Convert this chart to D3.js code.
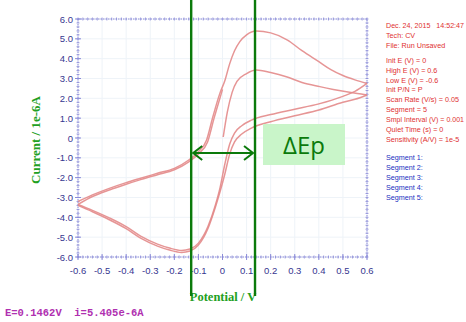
<!DOCTYPE html>
<html><head><meta charset="utf-8">
<script src="https://cdn.jsdelivr.net/npm/d3@7"></script>
<style>body{margin:0;background:#fff}svg{display:block}</style>
</head><body>
<svg id="c" width="466" height="322"></svg>
<script>
// Data (Current in 1e-6 A, Potential in V)
const xTicks = [-0.6,-0.5,-0.4,-0.3,-0.2,-0.1,0,0.1,0.2,0.3,0.4,0.5,0.6];
const xTickLabels = ["-0.6","-0.5","-0.4","-0.3","-0.2","-0.1","0","0.1","0.2","0.3","0.4","0.5","0.6"];
const yTicks = [6,5,4,3,2,1,0,-1,-2,-3,-4,-5,-6];
const yTickLabels = ["6.0","5.0","4.0","3.0","2.0","1.0","0","-1.0","-2.0","-3.0","-4.0","-5.0","-6.0"];

const seg1 = [[0.003,0.05],[0.02,1.3],[0.04,2.3],[0.06,2.85],[0.1,3.25],[0.14,3.43],[0.2,3.3],[0.265,3.09],[0.33,2.8],[0.404,2.59],[0.46,2.45],[0.515,2.33],[0.56,2.24],[0.6,2.17]];
const seg2 = [[0.6,2.17],[0.55,1.95],[0.5,1.8],[0.4,1.41],[0.3,1.12],[0.2,0.82],[0.12,0.5],[0.08,0.2],[0.05,-0.2],[0.03,-0.8],[0.01,-1.8],[-0.01,-2.7],[-0.03,-3.5],[-0.06,-4.55],[-0.1,-5.4],[-0.135,-5.7],[-0.17,-5.77],[-0.22,-5.65],[-0.27,-5.45],[-0.34,-5.05],[-0.4,-4.57],[-0.47,-4.12],[-0.54,-3.72],[-0.6,-3.4]];
const seg3 = [[-0.6,-3.2],[-0.54,-2.87],[-0.47,-2.54],[-0.4,-2.25],[-0.34,-2.03],[-0.27,-1.78],[-0.2,-1.53],[-0.14,-1.11],[-0.1,-0.69],[-0.066,-0.1],[-0.04,1.07],[-0.011,2.25],[0.01,2.9],[0.03,3.75],[0.05,4.4],[0.072,4.86],[0.1,5.2],[0.14,5.39],[0.2,5.3],[0.27,4.94],[0.33,4.4],[0.4,3.85],[0.45,3.45],[0.5,3.15],[0.55,2.93],[0.6,2.75]];
const seg4 = [[0.6,2.75],[0.55,2.35],[0.5,2.1],[0.4,1.72],[0.3,1.45],[0.2,1.18],[0.12,0.9],[0.08,0.62],[0.05,0.25],[0.03,-0.3],[0.01,-1.3],[-0.01,-2.5],[-0.03,-3.4],[-0.06,-4.45],[-0.1,-5.3],[-0.135,-5.6],[-0.17,-5.67],[-0.22,-5.55],[-0.27,-5.35],[-0.34,-4.95],[-0.4,-4.47],[-0.47,-4.03],[-0.54,-3.65],[-0.6,-3.35]];
const seg5 = [[-0.6,-3.35],[-0.54,-2.95],[-0.47,-2.62],[-0.4,-2.33],[-0.34,-2.1],[-0.27,-1.85],[-0.2,-1.6],[-0.14,-1.2],[-0.1,-0.8],[-0.062,-0.2],[-0.035,1.0],[-0.006,2.2],[0,2.45]];
const segments = [seg1, seg2, seg3, seg4, seg5];

const peaks = [-0.13, 0.135];   // cathodic / anodic peak potentials
const arrowLevel = -0.76;
const infoLines = ["Dec. 24, 2015   14:52:47","Tech: CV","File: Run Unsaved",null,"Init E (V) = 0","High E (V) = 0.6","Low E (V) = -0.6","Init P/N = P","Scan Rate (V/s) = 0.05","Segment = 5","Smpl Interval (V) = 0.001","Quiet Time (s) = 0","Sensitivity (A/V) = 1e-5"];
const segLines = ["Segment 1:","Segment 2:","Segment 3:","Segment 4:","Segment 5:"];
const cursorText = "E=0.1462V  i=5.405e-6A";

const svg = d3.select("#c");
const L=78, R=367, T=19, B=257;
const x = d3.scaleLinear().domain([-0.6,0.6]).range([L,R]);
const y = d3.scaleLinear().domain([-6,6]).range([B,T]);

// faint grid
const g = svg.append("g");
g.selectAll("line.gx").data(xTicks).join("line")
  .attr("x1",d=>x(d)).attr("x2",d=>x(d)).attr("y1",T).attr("y2",B)
  .attr("stroke","#eef3f8").attr("stroke-width",1);
g.selectAll("line.gy").data(yTicks).join("line")
  .attr("y1",d=>y(d)).attr("y2",d=>y(d)).attr("x1",L).attr("x2",R)
  .attr("stroke","#eef3f8").attr("stroke-width",1);

// frame with dense minor ticks
const frameC = "#8a8ad8";
svg.append("rect").attr("x",L).attr("y",T).attr("width",R-L).attr("height",B-T)
  .attr("fill","none").attr("stroke",frameC).attr("stroke-width",1).attr("stroke-dasharray","1.5,1");
const minorX = d3.range(-0.6,0.6001,0.02);
const minorY = d3.range(-6,6.001,0.2);
[T,B].forEach(yy=>{
  svg.append("g").selectAll("line").data(minorX).join("line")
   .attr("x1",d=>x(d)).attr("x2",d=>x(d)).attr("y1",yy-1.5).attr("y2",yy+1.5)
   .attr("stroke",frameC).attr("stroke-width",0.8);
});
[L,R].forEach(xx=>{
  svg.append("g").selectAll("line").data(minorY).join("line")
   .attr("y1",d=>y(d)).attr("y2",d=>y(d)).attr("x1",xx-1.5).attr("x2",xx+1.5)
   .attr("stroke",frameC).attr("stroke-width",0.8);
});
svg.append("g").selectAll("line").data(xTicks).join("line")
  .attr("x1",d=>x(d)).attr("x2",d=>x(d)).attr("y1",B-3).attr("y2",B+3)
  .attr("stroke",frameC).attr("stroke-width",1);
svg.append("g").selectAll("line").data(yTicks).join("line")
  .attr("y1",d=>y(d)).attr("y2",d=>y(d)).attr("x1",L-3).attr("x2",L+3)
  .attr("stroke",frameC).attr("stroke-width",1);

// tick labels
const tickC = "#36368f";
svg.append("g").selectAll("text").data(xTicks).join("text")
  .attr("x",d=>x(d)).attr("y",B+17).attr("text-anchor","middle")
  .attr("font-family","Liberation Sans, Arial").attr("font-size",9.5).attr("fill",tickC)
  .text((d,i)=>xTickLabels[i]);
svg.append("g").selectAll("text").data(yTicks).join("text")
  .attr("x",L-5).attr("y",d=>y(d)+3.5).attr("text-anchor","end")
  .attr("font-family","Liberation Sans, Arial").attr("font-size",9.5).attr("fill",tickC)
  .text((d,i)=>yTickLabels[i]);

// curves (each segment sorted by potential for a monotone-x curve)
const line = d3.line().x(d=>x(d[0])).y(d=>y(d[1])).curve(d3.curveMonotoneX);
svg.append("g").selectAll("path").data(segments.map(s=>s.slice().sort((a,b)=>a[0]-b[0]))).join("path")
  .attr("d",line).attr("fill","none").attr("stroke","#e38a8a").attr("stroke-width",1.5)
  .attr("stroke-opacity",0.9);

// axis titles
svg.append("text").attr("x",223).attr("y",301).attr("text-anchor","middle")
  .attr("font-family","Liberation Serif, Times New Roman").attr("font-weight","bold")
  .attr("font-size",12.5).attr("fill","#22a022").text("Potential / V");
svg.append("text").attr("transform","translate(40,140) rotate(-90)").attr("text-anchor","middle")
  .attr("font-family","Liberation Serif, Times New Roman").attr("font-weight","bold")
  .attr("font-size",13).attr("fill","#22a022").text("Current / 1e-6A");

// cursor readout
svg.append("text").attr("x",5).attr("y",316).style("white-space","pre")
  .attr("font-family","Liberation Mono, Courier New").attr("font-weight","bold")
  .attr("font-size",10.5).attr("fill","#b030b0").text(cursorText);

// info panel
const info = svg.append("g").attr("font-family","Liberation Sans, Arial").attr("font-size",7.2);
let yy = 28;
infoLines.forEach(t=>{
  if(t===null){ yy += 5; return; }
  info.append("text").attr("x",386).attr("y",yy).attr("fill","#e03030").style("white-space","pre").text(t);
  yy += 9.9;
});
segLines.forEach((t,i)=>{
  info.append("text").attr("x",386).attr("y",160+i*10).attr("fill","#2030c0").text(t);
});
// keep the long line inside the panel
info.selectAll("text").each(function(){
  const w = this.getComputedTextLength();
  if (w > 78) d3.select(this).attr("textLength",78).attr("lengthAdjust","spacingAndGlyphs");
});

// ΔEp annotation
const green = "#0b7a0b";
svg.append("g").selectAll("line").data(peaks).join("line")
  .attr("x1",d=>x(d)).attr("x2",d=>x(d)).attr("y1",0).attr("y2",296)
  .attr("stroke",green).attr("stroke-width",2.4);
const ay = y(arrowLevel), ax1 = x(peaks[0])+2, ax2 = x(peaks[1])-2;
const ann = svg.append("g").attr("stroke",green).attr("stroke-width",2).attr("fill","none");
ann.append("line").attr("x1",ax1).attr("x2",ax2).attr("y1",ay).attr("y2",ay);
ann.append("path").attr("d",`M${ax1+9},${ay-7}L${ax1},${ay}L${ax1+9},${ay+7}`);
ann.append("path").attr("d",`M${ax2-9},${ay-7}L${ax2},${ay}L${ax2-9},${ay+7}`);
svg.append("rect").attr("x",263).attr("y",124).attr("width",82).attr("height",41).attr("fill","#c9f5c9");
svg.append("text").attr("x",304).attr("y",154).attr("text-anchor","middle")
  .attr("font-family","Open Sans, Liberation Sans, Arial").attr("font-size",24).attr("fill",green).text("ΔEp");
</script>
</body></html>
